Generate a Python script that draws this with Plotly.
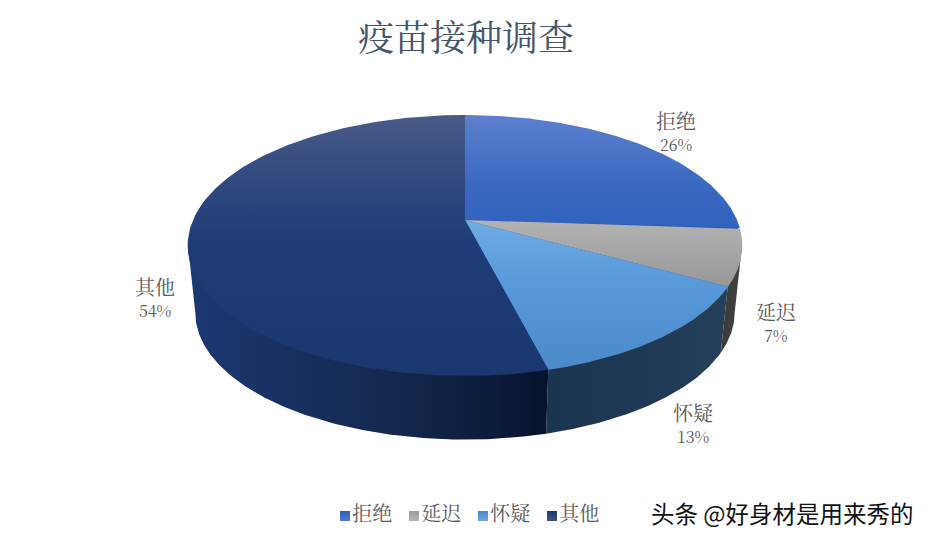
import numpy as np
import plotly.graph_objects as go

categorias = ["拒绝", "延迟", "怀疑", "其他"]
valores = [26, 7, 13, 54]
titulo = "疫苗接种调查"
marca = "头条 @好身材是用来秀的"

cores_legenda = [("#2F5FB5", "#5078CC"), ("#9A9A9A", "#B5B5B5"), ("#4A8ACB", "#6AA8E0"), ("#1B3770", "#43537F")]
topo_y = [(115, 228), (222, 288), (220, 370), (115, 376)]
topo_cores = [
    [(0, "#5E80CD"), (0.6, "#3A69C2"), (1, "#3162BD")],
    [(0, "#B2B2B2"), (1, "#979797")],
    [(0, "#6FACE3"), (0.4, "#5A9ADB"), (1, "#4A8AC9")],
    [(0, "#4A5A86"), (0.25, "#30497F"), (0.5, "#1F3C78"), (1, "#1B3770")],
]
lado_x = [(720, 745), (548, 728), (190, 548)]
lado_cores = [
    [(0, "#3A3A3A"), (1, "#454341")],
    [(0, "#1B3550"), (0.6, "#203A56"), (1, "#254059")],
    [(0, "#1C3872"), (0.55, "#14294F"), (0.85, "#0C1B3C"), (1, "#07122B")],
]
rotulos_xy = [(676, 120), (776, 311), (693, 412), (155, 286)]
fonte = "Noto Serif CJK SC, Noto Sans CJK SC"


# disco em perspectiva: t em graus, horario a partir do topo
def arco(t1, t2, cy, a, b, k=0.195, cx=465):
    t = np.radians(np.linspace(t1, t2, 160))
    u = np.sin(t)
    v = -np.cos(t)
    d = 1 - k * v
    return cx + a * u / d, cy + b * v / d


def topo(t1, t2):
    return arco(t1, t2, 220, 272, 125.5)


def base(t1, t2):
    return arco(t1, t2, 288, 264.5, 122)


fronteiras = np.cumsum([0] + valores) / sum(valores) * 360
limite = np.degrees(np.arccos(-0.195))

fig = go.Figure()

# paredes laterais, so a parte da frente aparece
for i in range(1, 4):
    t1 = max(fronteiras[i], limite)
    t2 = min(fronteiras[i + 1], 360 - limite)
    xt, yt = arco(t1, t2, 217, 272, 125.5)  # entra um pouco por baixo do topo
    xb, yb = base(t2, t1)
    fig.add_trace(go.Scatter(
        x=np.concatenate([xt, xb]), y=np.concatenate([yt, yb]),
        mode="lines", line_width=0, fill="toself",
        fillgradient=dict(type="horizontal", colorscale=lado_cores[i - 1],
                          start=lado_x[i - 1][0], stop=lado_x[i - 1][1]),
        hoverinfo="skip", showlegend=False,
    ))

# fundo para nao aparecer emenda entre as fatias
xf, yf = arco(0, 360, 220, 270.5, 124)
fig.add_trace(go.Scatter(x=xf, y=yf, mode="lines", line_width=0, fill="toself",
                         fillcolor="#2A50A0", hoverinfo="skip", showlegend=False))

# fatias de cima
for i in range(4):
    xt, yt = topo(fronteiras[i], fronteiras[i + 1])
    fig.add_trace(go.Scatter(
        x=np.concatenate([[465], xt]), y=np.concatenate([[220], yt]),
        mode="lines", line_width=0, fill="toself",
        fillgradient=dict(type="vertical", colorscale=topo_cores[i],
                          start=topo_y[i][0], stop=topo_y[i][1]),
        name=categorias[i], hoverinfo="skip", showlegend=False,
    ))

# legenda
for i, (nome, cor) in enumerate(zip(categorias, cores_legenda)):
    fig.add_trace(go.Scatter(
        x=[345 + 69 * i], y=[516], mode="markers+text", name=nome, text=[nome],
        textposition="middle right",
        textfont=dict(size=20, color="#595959", family=fonte),
        marker=dict(symbol="square", size=10, color=cor[0],
                    gradient=dict(type="vertical", color=cor[1])),
        hoverinfo="skip", showlegend=False,
    ))

for nome, v, (x, y) in zip(categorias, valores, rotulos_xy):
    fig.add_annotation(x=x, y=y, text=nome, showarrow=False,
                       font=dict(size=20, color="#595959", family=fonte))
    fig.add_annotation(x=x, y=y + 24.5, text=f"{v}%", showarrow=False,
                       font=dict(size=16, color="#595959", family=fonte))

fig.add_annotation(
    x=916, y=513, xanchor="right", yanchor="middle",
    text=marca, showarrow=False,
    font=dict(size=23.5, color="#111111", family="Noto Sans CJK SC"),
)

fig.update_layout(
    width=932, height=542, margin=dict(l=0, r=0, t=0, b=0),
    paper_bgcolor="white", plot_bgcolor="white", showlegend=False,
    title=dict(text=titulo, x=466 / 932, xanchor="center", y=1 - 38 / 542, yanchor="middle",
               font=dict(size=36, color="#44546A", family=fonte)),
    xaxis=dict(range=[0, 932], visible=False, fixedrange=True),
    yaxis=dict(range=[542, 0], visible=False, fixedrange=True),
)

fig.write_html("out.html", config={"displayModeBar": False},
               post_script="document.body.style.margin='0'")
